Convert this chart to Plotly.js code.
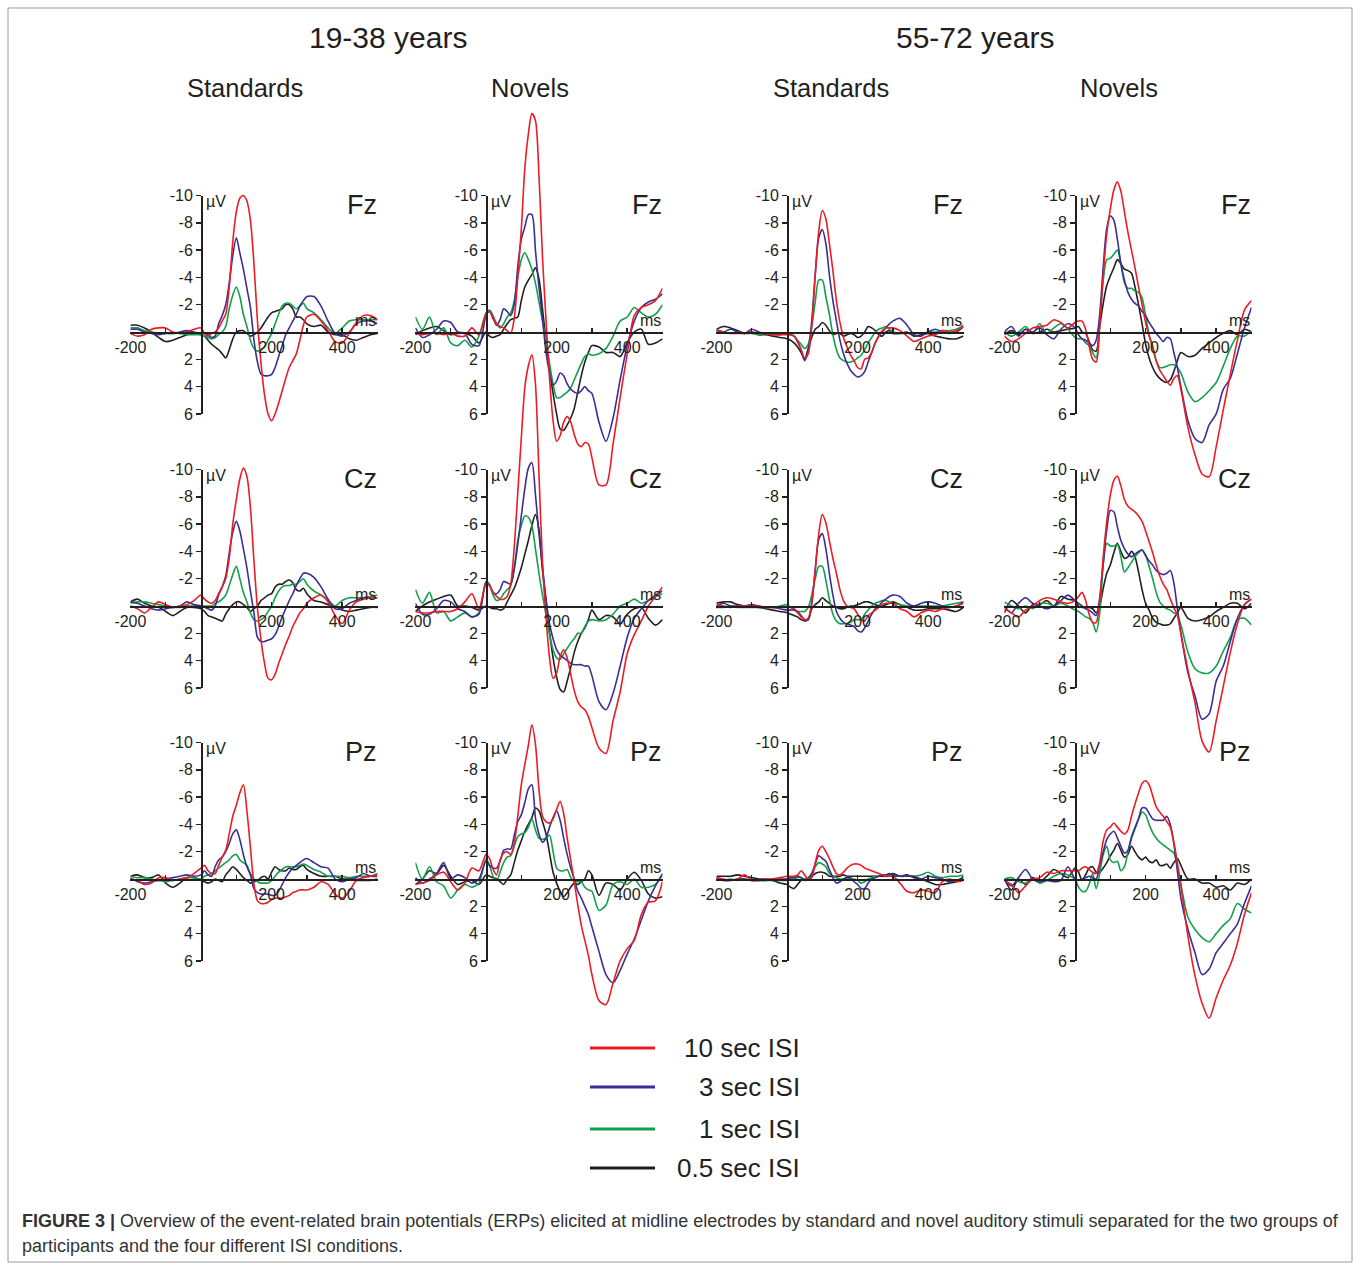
<!DOCTYPE html>
<html><head><meta charset="utf-8">
<script src="https://cdn.plot.ly/plotly-3.0.1.min.js"></script>
<style>html,body{margin:0;padding:0;background:#fff}#chart{width:1360px;height:1263px}</style>
</head><body><div id="chart"></div>
<script>
// ---------- shared categories / labels ----------
const timeMs = [-200,-180,-160,-140,-120,-100,-80,-60,-40,-20,0,
  10,20,30,40,50,60,70,80,90,100,110,120,130,140,150,160,170,180,190,200,
  210,220,230,240,250,260,270,280,290,300,
  320,340,360,380,400,420,440,460,480,500];
const isiLabels = ['10 sec ISI','3 sec ISI','1 sec ISI','0.5 sec ISI'];
const isiColors = ['#ed1c24','#3a2e96','#12a04a','#231f20'];
const groupTitles = ['19-38 years','55-72 years'];
const stimTitles = ['Standards','Novels','Standards','Novels'];
const electrodes = ['Fz','Cz','Pz'];
const xTickVals = [-200,-100,100,200,300,400];
const xTickText = ['-200','','','200','','400'];
const yTickVals = [-10,-8,-6,-4,-2,2,4,6];
const yTickText = ['-10','-8','-6','-4','-2','2','4','6'];
const captionLines = [
  '<b>FIGURE 3 |</b> Overview of the event-related brain potentials (ERPs) elicited at midline electrodes by standard and novel auditory stimuli separated for the two groups of',
  'participants and the four different ISI conditions.'
];

// ---------- Young (19-38), Standards ----------
const YS_Fz_10 = [0.1,0.3,0.2,-0.2,-0.3,-0.3,0,0.1,0,-0.2,-0.3,
  0.1,0.3,0.1,0,-0.3,-0.8,-1.3,-3.3,-6.6,-8.8,-9.8,-10.0,-9.6,-8.2,-5.0,-0.8,2.3,4.6,6.0,6.5,
  6.0,5.2,4.3,3.4,2.6,2.1,1.6,0.6,-0.5,-1.1,
  -1.3,-0.8,-0.1,0.7,0.8,0.1,-0.7,-1.2,-1.2,-0.9];
const YS_Fz_3 = [-0.2,-0.2,0,0.1,0.2,0.1,0.1,0,-0.1,0,0.1,
  0.1,0.2,0.4,0.3,-0.6,-1.2,-2.0,-3.6,-5.6,-6.9,-5.8,-4.6,-3.2,-1.8,0.6,2.2,3.1,3.2,3.2,3.1,
  2.6,1.8,1.0,0.2,-0.3,-0.8,-1.3,-1.9,-2.3,-2.6,
  -2.6,-1.9,-0.8,0.1,0.3,0,-0.6,-0.8,-0.8,-0.6];
const YS_Fz_1 = [-0.3,-0.3,-0.1,0,0.1,0.1,0.1,0.1,0.2,0.2,0.2,
  0.3,0.4,0.5,0.4,0.2,0,-0.4,-1.7,-2.7,-3.3,-2.6,-1.3,-0.4,0.6,1.2,1.4,1.3,1.1,0.6,0.1,
  -0.6,-1.3,-1.9,-2.1,-2.1,-1.9,-1.7,-1.9,-2.1,-1.7,
  -1.4,-0.9,-0.3,0.1,-0.3,-0.8,-0.9,-0.9,-0.9,-0.9];
const YS_Fz_05 = [-0.5,-0.5,-0.3,0,0.4,0.7,0.6,0.4,0.2,0.1,0.2,
  0.3,0.6,0.9,1.1,1.3,1.6,1.9,1.3,0.5,0,-0.1,-0.1,0.1,0.3,0.2,0,-0.3,-0.7,-1.1,-1.4,
  -1.5,-1.6,-1.7,-2.0,-2.0,-1.7,-1.1,-1.1,-0.9,-0.6,
  -0.4,-0.5,0,0.2,0.2,0.5,0.6,0.4,0.2,0.1];

const YS_Cz_10 = [0,0.2,0.5,0.1,-0.3,-0.1,0.1,0,-0.1,-0.4,-0.8,
  -0.5,-0.3,-0.2,-0.4,-0.9,-1.4,-2.0,-3.5,-6.0,-7.8,-9.3,-10.1,-9.5,-7.2,-3.3,0.2,2.5,4.2,5.3,5.4,
  5.0,4.2,3.5,2.8,2.2,1.5,1.0,0.5,0.2,-0.2,
  -0.6,-0.8,-0.3,0.7,1.3,0.3,-0.3,-0.5,-0.6,-0.6];
const YS_Cz_3 = [-0.3,-0.2,0,0.2,0.3,0.2,0.1,0,-0.3,-0.1,0,
  0.1,0.2,0.3,0,-0.8,-1.4,-2.2,-3.9,-5.4,-6.2,-5.5,-4.2,-2.8,-1.1,0.5,2.3,2.6,2.6,2.5,2.4,
  2.1,1.5,0.8,0.2,-0.4,-0.9,-1.5,-2.0,-2.4,-2.4,
  -2.1,-1.4,-0.5,0.2,0.2,-0.2,-0.4,-0.6,-0.6,-0.6];
const YS_Cz_1 = [-0.2,-0.3,-0.3,-0.2,-0.1,0,0.1,0.1,0,0,0,
  0,0,0,-0.2,-0.3,-0.5,-0.8,-1.5,-2.3,-2.9,-2.0,-1.0,-0.3,0.5,1.0,1.1,1.0,0.8,0.4,0,
  -0.6,-1.1,-1.4,-1.5,-1.5,-1.6,-1.6,-1.8,-2.0,-1.6,
  -1.1,-0.8,-0.4,0,-0.4,-0.6,-0.6,-0.6,-0.7,-0.8];
const YS_Cz_05 = [-0.3,-0.5,-0.2,0,0.1,0.4,0.7,0.4,0.1,0.1,0.2,
  0.4,0.7,0.8,0.9,1.0,1.1,0.6,0.2,-0.1,-0.3,-0.3,-0.1,0.1,0.4,0.2,0,-0.4,-0.6,-0.8,-0.9,
  -1.4,-1.6,-1.6,-1.8,-1.9,-1.7,-1.2,-1.1,-1.3,-0.9,
  -0.4,-0.3,-0.1,0,0.3,0.4,0.3,0.2,0.1,0.1];

const YS_Pz_10 = [0,0.1,0.4,0.3,-0.1,-0.1,0.1,0,-0.1,-0.4,-0.8,
  -1.0,-0.6,-0.4,-0.4,-1.0,-1.6,-2.1,-3.3,-4.6,-5.4,-6.3,-6.9,-5.0,-2.3,0.4,1.6,1.8,1.8,1.7,1.5,
  1.4,1.4,1.4,1.3,1.2,1.0,0.9,0.8,0.8,0.8,
  0.6,0.2,0.4,1.1,1.4,0.9,0.1,-0.1,-0.2,-0.3];
const YS_Pz_3 = [-0.1,0.2,0.3,0.2,0.1,0,-0.1,-0.2,-0.3,-0.2,-0.3,
  -0.6,-0.3,-0.2,-0.9,-1.4,-1.6,-2.0,-2.6,-3.3,-3.6,-2.9,-1.8,-0.9,-0.3,0.7,1.0,1.1,1.1,1.1,1.2,
  1.2,0.9,0.4,-0.1,-0.5,-0.8,-1.0,-1.2,-1.4,-1.5,
  -1.2,-0.9,-0.8,0,0.2,0,-0.1,-0.4,-0.2,-0.2];
const YS_Pz_1 = [-0.2,-0.1,-0.1,0,0.1,0.2,0.1,0,-0.1,-0.1,0,
  -0.2,-0.3,-0.4,-0.6,-0.8,-1.0,-1.2,-1.4,-1.7,-1.8,-1.4,-1.2,-1.0,-0.4,0,0.2,0.3,0.3,0.3,0.1,
  -0.2,-0.5,-0.7,-0.9,-0.9,-0.9,-0.9,-1.0,-1.1,-1.0,
  -0.7,-0.5,-0.2,-0.2,-0.2,-0.1,-0.2,-0.2,-0.2,-0.4];
const YS_Pz_05 = [-0.2,-0.3,-0.1,-0.1,-0.3,0.3,0.6,0.3,-0.1,-0.1,0.1,
  0.2,0.3,0.2,0,0.1,0.2,-0.3,-0.6,-0.9,-0.7,-0.4,-0.1,0.1,0.3,0.2,0.1,-0.1,-0.2,0,-0.5,
  -0.9,-0.7,-0.6,-0.6,-0.8,-0.7,-0.7,-0.9,-1.0,-0.7,
  -0.4,-0.2,-0.2,-0.2,0,0,0.1,0.1,0.1,0];

// ---------- Young (19-38), Novels ----------
const YN_Fz_10 = [0.1,0.2,0.1,0.1,0.2,0.1,0.3,0.3,-0.3,0.2,-1.3,
  -1.5,-1.0,-0.6,-0.4,-0.3,-0.1,0.1,-1.0,-4.0,-7.5,-12.0,-14.5,-16.0,-15.5,-11.5,-5.5,-0.9,3.4,6.5,8.0,
  7.6,6.6,6.2,6.6,7.5,8.2,8.4,8.1,8.2,9.2,
  11.2,11.2,8.2,4.8,1.6,-1.2,-1.8,-2.0,-2.3,-3.2];
const YN_Fz_3 = [-0.3,0.4,0.2,-0.2,-0.8,-0.7,0,0.1,0.9,1.0,-1.2,
  -1.5,-1.0,-0.5,-0.9,-1.7,-1.5,-1.2,-2.0,-4.8,-6.8,-7.7,-8.6,-8.6,-6.0,-3.3,-1.0,1.5,3.0,3.9,3.6,
  3.0,3.2,3.8,4.2,4.4,4.5,4.3,4.0,4.3,4.5,
  6.6,8.0,6.3,3.5,1.0,-0.8,-1.8,-2.2,-2.4,-2.8];
const YN_Fz_1 = [-1.1,-0.2,-1.1,0.2,-0.3,0.8,1.0,0.6,1.1,0.3,-1.4,
  -1.6,-1.2,-0.6,-0.3,-0.6,-1.1,-1.4,-2.3,-4.0,-5.3,-5.8,-5.3,-4.6,-3.6,-2.2,-0.8,0.6,2.3,3.8,4.8,
  4.8,4.6,4.4,4.1,3.5,2.9,2.3,1.8,1.6,1.7,
  1.6,1.2,0.3,-0.8,-1.1,-1.8,-1.4,-1.1,-1.3,-2.0];
const YN_Fz_05 = [0.2,-0.1,-0.3,-0.4,-0.1,0.2,0.1,0.1,0.3,0.8,0,
  0.3,0.4,0.3,0.2,-0.2,-0.6,-0.9,-1.0,-1.1,-2.3,-3.3,-3.8,-4.2,-4.7,-3.9,-1.7,0.6,2.8,4.5,6.0,
  7.1,7.2,6.8,6.3,5.6,4.4,3.2,2.2,1.5,1.0,
  1.1,1.5,1.5,1.8,0.8,0,-0.2,0.9,0.8,0.5];

const YN_Cz_10 = [0.4,0.5,0.5,0.4,0.4,0.4,0.2,-0.3,-0.9,0.2,-1.6,
  -1.5,-1.0,-0.7,-0.5,-0.5,-0.7,-1.6,-4.3,-8.3,-12.3,-16.0,-17.6,-18.4,-16.3,-9.7,-3.2,0.8,3.8,5.3,4.9,
  3.7,3.2,3.8,5.0,6.2,7.0,7.4,7.6,8.1,8.9,
  10.4,10.8,8.4,6.3,3.5,2.1,1.1,0,-0.7,-1.4];
const YN_Cz_3 = [-0.2,0.6,0.6,0.2,-0.4,-0.3,0.2,0.4,0.8,0.6,-1.7,
  -1.5,-1.0,-0.9,-1.2,-1.8,-1.7,-1.6,-2.7,-4.5,-6.6,-8.6,-10.1,-10.5,-8.2,-5.3,-2.9,-0.5,1.3,2.4,3.2,
  3.6,3.8,4.0,4.2,4.3,4.3,4.3,4.4,4.4,5.1,
  7.0,7.6,6.4,4.4,2.3,0.9,0.2,-0.4,-0.8,-1.1];
const YN_Cz_1 = [-1.2,-0.2,-1.0,0.5,0.4,1.1,0.8,0.5,0.8,0.5,-1.8,
  -1.6,-0.8,-0.4,-0.5,-0.9,-1.2,-1.5,-2.8,-4.8,-5.9,-6.6,-6.5,-5.9,-4.2,-2.4,-0.8,0.6,2.1,3.2,3.8,
  3.9,3.5,3.1,2.7,2.4,2.0,2.0,1.5,1.1,1.0,
  1.1,1.0,0.6,0,-0.2,-0.5,-0.2,-0.4,-0.7,-0.9];
const YN_Cz_05 = [0.4,0,-0.3,-0.5,-0.7,-0.8,0,0,0.1,0.3,0,
  0.1,0.2,0.2,0.3,0.2,-0.3,-0.8,-1.3,-2.0,-2.8,-3.8,-4.8,-5.9,-6.7,-5.6,-2.6,-0.4,1.9,3.8,5.2,
  6.1,6.3,5.5,4.5,3.4,2.6,2.0,1.6,1.0,0.3,
  1.0,0.7,0.8,1.3,0.6,0.2,0.1,0.9,1.4,1.0];

const YN_Pz_10 = [0.4,0.3,0.1,-0.3,-0.5,0.2,0.8,0.3,-0.8,-0.6,-1.8,
  -1.5,-0.7,-0.3,-1.4,-1.9,-2.0,-1.8,-2.6,-4.6,-6.9,-8.4,-9.8,-11.3,-9.9,-6.6,-4.6,-4.2,-4.1,-4.4,-5.1,
  -5.7,-4.8,-3.0,-1.4,0.2,1.9,3.4,4.5,5.6,7.0,
  8.9,9.2,7.6,6.0,5.1,4.5,2.6,1.7,1.6,0.2];
const YN_Pz_3 = [-0.1,0.3,0,-0.4,-1.2,0,-0.3,-0.1,0.3,0,-1.3,
  -1.0,-0.8,-0.8,-1.3,-2.1,-2.2,-2.2,-3.2,-4.2,-4.7,-5.6,-6.6,-6.9,-4.5,-3.3,-2.7,-3.0,-3.8,-4.5,-5.0,
  -4.3,-3.0,-1.8,-0.8,0,0.9,1.4,2.0,2.6,3.5,
  5.3,7.0,7.6,6.7,5.5,4.4,3.0,1.6,0.5,-0.4];
const YN_Pz_1 = [-1.2,0,-0.9,0.2,0.5,1.4,0.8,0.4,0.6,0.3,-1.5,
  -1.0,-0.2,0.1,-0.5,-1.2,-1.6,-1.7,-2.4,-3.1,-3.3,-3.4,-3.8,-4.4,-3.6,-3.0,-2.9,-3.0,-3.2,-2.0,-0.8,
  -0.6,-0.6,-0.7,-0.1,0.2,0.2,0.2,0.6,0.8,0.9,
  2.3,1.9,0.4,0.2,0.4,0,0.6,0.6,0.4,-0.3];
const YN_Pz_05 = [0.4,0,-0.6,-0.4,-1.0,-0.2,0.4,0.2,0.1,0.4,-0.3,
  -0.2,-0.1,0,0.2,0.4,0,-0.3,-1.2,-2.1,-2.8,-3.5,-4.0,-4.5,-5.2,-5.0,-4.2,-3.3,-1.9,-0.5,0.3,
  0.9,1.3,1.0,0.6,0.3,0.4,0.2,0,-0.6,-0.3,
  1.2,0.3,0.4,0.8,0,-0.5,0.1,1.1,1.4,1.3];

// ---------- Old (55-72), Standards ----------
const OS_Fz_10 = [-0.1,0,0.1,0.1,0.1,0,0.1,0.1,0.2,0.2,0.2,
  0.2,0.3,0.7,1.3,1.9,1.6,-0.4,-4.2,-7.4,-8.9,-8.3,-6.5,-4.5,-2.3,-0.7,0.4,1.1,1.7,2.1,2.6,
  2.7,2.0,1.9,1.5,0.8,0.3,-0.1,-0.3,-0.3,-0.3,
  -0.1,0.3,0.7,0.5,0.3,0.2,-0.1,0,-0.1,-0.4];
const OS_Fz_3 = [-0.1,0,-0.2,0,0.1,-0.2,0,0.1,0.1,0.2,0.1,
  0.2,0.3,0.7,1.3,2.1,1.4,-0.8,-4.2,-6.9,-7.5,-6.5,-4.2,-2.3,-0.8,0.6,1.6,2.3,2.8,3.1,3.3,
  3.2,2.9,2.2,1.5,0.8,0.3,0,-0.3,-0.6,-0.8,
  -1.0,-0.5,0.2,0.3,0,-0.2,0,0.1,0,-0.4];
const OS_Fz_1 = [-0.2,0,0.1,0,0.1,0.1,0.2,0.1,0.2,0.2,0.1,
  0.2,0.3,0.6,0.9,1.2,0.9,-0.4,-2.2,-3.8,-3.8,-2.6,-1.3,0.2,1.3,1.9,2.1,2.2,2.2,2.1,1.9,
  1.7,1.3,0.8,0.4,0,-0.2,-0.3,-0.4,-0.2,0,
  0.1,0.1,0.1,0.1,0,0,-0.1,-0.1,-0.2,-0.5];
const OS_Fz_05 = [-0.2,-0.4,-0.3,-0.1,0.1,0,0.2,0.2,0.3,0.4,0.5,
  0.6,0.8,1.1,1.5,2.0,1.2,0.4,-0.2,-0.4,-0.7,-0.5,-0.1,0.2,0.1,0.1,0.3,0.2,0.1,0.2,0.4,
  0.3,0,-0.4,-0.3,-0.1,0.2,0.3,0,-0.1,0.1,
  0.1,0,0.3,0.2,0.1,0.3,0.4,0.5,0.5,0.3];

const OS_Cz_10 = [-0.1,0,0.1,0,0,0,0,0.1,0.1,0.1,0.1,
  0.1,0.2,0.5,0.8,1.0,0.9,-0.3,-2.6,-5.3,-6.7,-6.1,-4.8,-3.5,-2.4,-1.2,-0.4,0,0.1,0.2,0.6,
  1.0,1.1,0.7,0.5,0.3,0.1,-0.1,-0.2,-0.2,-0.2,
  0.2,0.4,0.8,0.5,0.3,0.4,0.2,0.1,0,-0.2];
const OS_Cz_3 = [0,-0.2,0,0,0,-0.1,0,0.1,0.1,0.2,0.3,
  0.3,0.3,0.4,0.7,1.0,1.0,-0.1,-2.7,-4.9,-5.3,-4.2,-2.4,-0.8,0.4,0.9,1.2,1.3,1.4,1.5,1.8,
  1.9,1.6,1.1,0.6,0.2,0,-0.3,-0.5,-0.7,-0.8,
  -0.7,-0.2,0,-0.2,-0.3,-0.2,0,0.1,0,-0.3];
const OS_Cz_1 = [0.1,0.1,0,0.1,0.1,0.1,0.1,0.1,0.1,0,-0.1,
  0.1,0.3,0.4,0.4,0.4,0.1,-0.8,-2.0,-2.9,-2.9,-1.9,-0.5,0.6,1.1,1.3,1.3,1.3,1.2,1.0,1.0,
  1.0,0.6,0.3,0,-0.2,-0.3,-0.4,-0.4,-0.3,-0.2,
  -0.1,0,0,0,0,0,0,-0.1,-0.2,-0.3];
const OS_Cz_05 = [-0.2,-0.3,-0.3,-0.1,0,0,0.1,0.2,0.3,0.4,0.5,
  0.6,0.7,0.8,1.0,1.1,1.0,0.2,-0.1,-0.3,-0.6,-0.4,-0.2,0,0.1,0.2,0.2,0.1,0,0,-0.1,
  -0.2,-0.3,-0.3,-0.2,-0.1,0,0,-0.1,-0.2,-0.3,
  -0.1,0.1,0.3,0.3,0.2,0.2,0.2,0.3,0.4,0.1];

const OS_Pz_10 = [-0.1,0,0.1,0,-0.3,0.1,0.1,0,0,-0.1,-0.2,
  -0.2,-0.2,-0.3,-0.6,-0.3,0,-0.1,-1.2,-2.1,-2.4,-2.0,-1.5,-0.9,-0.4,-0.3,-0.5,-0.8,-1.0,-1.1,-1.1,
  -1.0,-0.8,-0.7,-0.6,-0.5,-0.4,-0.3,-0.2,-0.2,-0.2,
  0.3,0.9,1.0,0.8,0.9,1.0,0.2,0,0.2,0.1];
const OS_Pz_3 = [-0.1,0.1,0.1,0,0,0.1,0.1,0.1,0,0,0,
  -0.1,-0.1,-0.2,-0.1,0.1,0,-0.4,-1.1,-1.7,-1.5,-1.3,-0.7,-0.1,0.3,0.2,0,-0.1,-0.1,0.2,0.4,
  0.7,0.7,0.3,0,-0.1,-0.2,-0.3,-0.3,-0.4,-0.3,
  -0.2,-0.2,-0.2,0,-0.2,-0.1,0,0.2,0.1,-0.1];
const OS_Pz_1 = [0,0.1,0,0.1,0,0.1,0.1,0.1,0.1,0.1,0.1,
  0,0,-0.1,-0.1,0,-0.1,-0.4,-0.9,-1.2,-1.1,-0.9,-0.4,-0.2,-0.1,0,0,-0.1,0,0,0.1,
  0.3,0.2,0,-0.1,-0.2,-0.2,-0.3,-0.2,-0.2,-0.2,
  -0.2,-0.2,-0.2,-0.3,-0.5,-0.2,-0.1,-0.2,-0.2,-0.3];
const OS_Pz_05 = [-0.2,-0.2,-0.2,-0.3,-0.2,-0.1,0,0,0.1,0.3,0.4,
  0.6,0.7,0.4,0.1,0,-0.1,-0.2,-0.4,-0.5,-0.5,-0.4,-0.2,-0.2,-0.2,-0.2,-0.3,-0.2,-0.2,-0.2,-0.2,
  -0.2,-0.2,-0.2,-0.2,-0.2,-0.2,-0.2,-0.2,-0.3,-0.4,
  -0.2,-0.3,-0.1,0,0.2,0.4,0.4,0.3,0.2,-0.2];

// ---------- Old (55-72), Novels ----------
const ON_Fz_10 = [0.3,0.7,0.5,0.1,-0.3,-0.4,-0.5,-0.9,-0.7,-0.3,-0.7,
  -0.8,-0.8,-0.2,1.0,2.0,2.2,-0.4,-4.2,-7.2,-9.0,-10.4,-11.0,-10.3,-8.8,-7.3,-6.0,-4.7,-3.3,-2.0,-0.7,
  0.3,1.0,2.1,2.8,3.2,3.6,3.9,3.4,3.2,4.2,
  7.0,9.0,10.4,10.6,8.4,5.7,3.1,0.6,-1.6,-2.3];
const ON_Fz_3 = [0,-0.4,0.3,-0.2,0,-0.3,0.2,0.5,-0.2,-0.6,-0.3,
  0.2,0.5,0.6,0.8,1.0,0.6,-1.3,-4.8,-7.6,-8.5,-8.2,-6.8,-5.0,-3.8,-2.9,-2.4,-2.1,-1.9,-1.5,-1.2,
  -0.7,-0.3,0.1,0.4,0.7,0.4,0.5,1.5,2.6,4.0,
  6.5,7.8,8.1,6.8,6.0,4.2,3.4,1.6,-0.3,-1.8];
const ON_Fz_1 = [0,0.3,0,-0.4,0.1,-0.6,0.1,-0.3,-0.6,-0.2,0.4,
  0.5,0.5,0.8,1.0,1.5,1.9,-0.8,-3.8,-5.3,-5.4,-5.7,-6.0,-5.0,-3.6,-3.2,-3.2,-3.0,-2.9,-2.5,-1.2,
  0.2,1.2,2.1,2.6,2.6,2.5,2.4,2.4,2.6,3.0,
  4.4,5.1,4.8,4.3,3.7,2.5,1.2,0.3,0.3,-0.1];
const ON_Fz_05 = [0.2,-0.1,0.2,-0.2,0.1,0,-0.2,0,-0.1,-0.2,-0.3,
  -0.4,0,0.1,0.7,1.3,1.4,-0.4,-2.1,-3.4,-4.1,-4.7,-5.3,-5.0,-4.6,-4.5,-4.3,-3.3,-2.0,-0.6,0.9,
  1.9,2.6,3.1,3.4,3.6,3.7,3.5,2.9,2.1,1.5,
  1.8,1.7,1.2,0.8,0.4,0.1,-0.1,0.2,-0.2,0];

const ON_Cz_10 = [0.2,0.5,0.8,0.3,0,-0.4,-0.6,-0.5,-0.3,-0.2,-0.4,
  -0.7,-1.0,-0.4,0.6,1.2,1.2,-0.4,-3.6,-6.2,-8.1,-9.2,-9.5,-8.8,-7.8,-7.3,-7.1,-6.9,-6.6,-6.2,-5.5,
  -4.7,-3.9,-3.0,-2.2,-1.6,-1.2,-0.5,0.1,0.7,2.0,
  4.7,7.1,9.9,10.7,8.4,5.9,3.4,1.3,-0.1,-0.5];
const ON_Cz_3 = [0,0.5,-0.2,-0.6,-0.2,0,0.2,0,-0.4,-0.8,-0.4,
  -0.2,0,0.2,0.3,0.5,0.7,-0.6,-3.2,-5.6,-7.0,-6.9,-5.8,-4.8,-4.2,-3.8,-3.6,-3.8,-4.0,-4.1,-3.7,
  -3.3,-3.0,-2.6,-2.4,-2.3,-2.4,-2.6,-1.7,0.2,2.0,
  4.9,6.6,8.3,7.9,5.5,4.4,2.6,0.9,-0.1,-0.5];
const ON_Cz_1 = [-0.3,0,0.2,0,0.2,-0.2,-0.2,0,-0.2,0,0.3,
  0.4,0.6,0.8,0.9,1.2,1.9,0.5,-3.0,-4.6,-4.4,-4.4,-4.5,-3.6,-2.5,-2.8,-3.2,-3.6,-3.9,-4.1,-3.7,
  -2.9,-2.0,-1.0,-0.3,0,0.2,0.3,0.5,0.7,1.4,
  3.4,4.6,4.9,4.9,4.4,3.3,2.3,1.0,0.9,1.4];
const ON_Cz_05 = [0.5,-0.4,0,0.5,-0.1,-0.1,-0.4,0,-0.7,-0.5,-0.4,
  0,0.1,0.1,0.1,0.2,0.5,0,-1.3,-2.4,-3.0,-3.9,-4.6,-4.0,-3.5,-3.6,-4.0,-3.6,-2.5,-1.2,-0.2,
  0.3,0.9,1.2,1.3,1.4,1.4,1.3,0.9,0.5,0.1,
  0.9,1.1,1.0,0.8,0.4,0.1,-0.2,-0.2,0.2,-0.2];

const ON_Pz_10 = [0.1,0.4,1.0,0.5,0,-0.1,-0.5,-0.4,-0.6,-0.6,-0.6,
  -0.6,-0.8,-0.9,-0.7,-0.5,-0.4,-1.2,-2.8,-3.6,-3.8,-4.1,-3.8,-3.5,-3.3,-3.6,-4.6,-5.5,-6.3,-7.0,-7.2,
  -6.9,-6.1,-5.3,-4.9,-4.6,-4.2,-3.8,-2.7,-1.2,0.5,
  4.2,7.1,9.1,10.2,8.7,7.4,6.3,4.7,2.6,1.0];
const ON_Pz_3 = [0.1,0.5,-0.1,-0.7,0,0.2,0.1,0.2,0.1,-0.9,0,
  0.1,0,-0.1,-0.2,-0.1,0,-1.0,-2.0,-2.9,-3.3,-3.5,-3.0,-2.4,-1.9,-2.1,-3.0,-3.7,-4.4,-5.2,-5.2,
  -4.8,-4.4,-4.3,-4.3,-4.3,-4.6,-4.0,-2.6,-0.6,1.4,
  3.7,5.4,7.0,6.6,5.4,4.7,4.0,3.3,1.8,0.5];
const ON_Pz_1 = [0,-0.1,0.2,0.3,0,0.3,0.1,-0.2,-0.4,-0.3,0,
  0.6,0.9,0.9,0.4,-0.4,0.7,-0.4,-1.8,-2.4,-1.4,-1.2,-1.3,-0.6,-0.9,-2.0,-3.1,-3.8,-4.4,-4.9,-4.7,
  -4.0,-3.4,-3.0,-2.7,-2.5,-2.3,-2.1,-1.9,-0.9,0.4,
  2.8,3.7,4.3,4.6,4.0,3.4,2.9,1.8,2.2,2.5];
const ON_Pz_05 = [0,0.8,0,0.4,-0.1,0.2,-0.2,-0.7,-0.4,-0.1,-0.8,
  -0.5,0.1,-0.3,-0.8,-0.9,-0.5,-0.5,-0.8,-1.2,-1.7,-2.1,-2.6,-2.1,-1.6,-1.8,-2.4,-2.0,-1.6,-1.4,-1.6,
  -1.3,-1.2,-1.4,-1.0,-1.0,-1.1,-0.8,-1.2,-1.5,-1.0,
  0,0,0.3,0.3,0.6,0.5,0.8,0.3,0.4,0];

// panel grid: rows = electrodes, columns = young std, young novel, old std, old novel
// each cell lists series in ISI order [10, 3, 1, 0.5]
const panelSeries = [
  [[YS_Fz_10,YS_Fz_3,YS_Fz_1,YS_Fz_05],[YN_Fz_10,YN_Fz_3,YN_Fz_1,YN_Fz_05],
   [OS_Fz_10,OS_Fz_3,OS_Fz_1,OS_Fz_05],[ON_Fz_10,ON_Fz_3,ON_Fz_1,ON_Fz_05]],
  [[YS_Cz_10,YS_Cz_3,YS_Cz_1,YS_Cz_05],[YN_Cz_10,YN_Cz_3,YN_Cz_1,YN_Cz_05],
   [OS_Cz_10,OS_Cz_3,OS_Cz_1,OS_Cz_05],[ON_Cz_10,ON_Cz_3,ON_Cz_1,ON_Cz_05]],
  [[YS_Pz_10,YS_Pz_3,YS_Pz_1,YS_Pz_05],[YN_Pz_10,YN_Pz_3,YN_Pz_1,YN_Pz_05],
   [OS_Pz_10,OS_Pz_3,OS_Pz_1,OS_Pz_05],[ON_Pz_10,ON_Pz_3,ON_Pz_1,ON_Pz_05]]
];

// ---------- geometry / style ----------
const W = 1360, H = 1263;
const FONT = 'Liberation Sans, Arial, Helvetica, sans-serif';
const INK = '#231f20';
const colZeroPx = [201, 486, 787, 1075];   // pixel x of 0 ms in each column
const rowZeroPx = [332, 606, 879];         // pixel y of 0 µV in each row
const pxPerMs = 0.353, pxPerUV = 13.65;
const tMin = -200, tMax = 500, vTop = -10, vBottom = 6;
const drawOrder = [3, 2, 1, 0];            // black, green, blue, red on top
const tickFontSize = 16;

const traces = [];
const layout = {
  width: W, height: H,
  margin: {l: 0, r: 0, t: 0, b: 0, pad: 0},
  paper_bgcolor: '#ffffff', plot_bgcolor: 'rgba(0,0,0,0)',
  showlegend: false,
  font: {family: FONT, color: INK},
  annotations: [], shapes: []
};
const px2x = p => p / W;
const px2y = p => 1 - p / H;

for (let r = 0; r < 3; r++) {
  for (let c = 0; c < 4; c++) {
    const k = r * 4 + c, n = k + 1, m = k + 13;
    const x0 = colZeroPx[c], y0 = rowZeroPx[r];
    layout['xaxis' + n] = {
      domain: [px2x(x0 + tMin * pxPerMs), px2x(x0 + tMax * pxPerMs)],
      range: [tMin, tMax], anchor: 'free', position: px2y(y0),
      showline: true, linecolor: INK, linewidth: 1.7,
      ticks: 'inside', ticklen: 4, tickwidth: 1.5, tickcolor: INK,
      tickmode: 'array', tickvals: xTickVals, ticktext: xTickText,
      tickfont: {size: tickFontSize, color: INK, family: FONT},
      showgrid: false, zeroline: false, fixedrange: true
    };
    layout['yaxis' + n] = {
      domain: [0, 1],
      range: [(H - y0) / pxPerUV, -y0 / pxPerUV],
      anchor: 'x' + n, visible: false, fixedrange: true
    };
    layout['yaxis' + m] = {
      domain: [px2y(y0 + vBottom * pxPerUV), px2y(y0 + vTop * pxPerUV)],
      range: [vBottom, vTop], anchor: 'free', position: px2x(x0),
      showline: true, linecolor: INK, linewidth: 1.7,
      ticks: 'outside', ticklen: 5, tickwidth: 1.5, tickcolor: INK,
      tickmode: 'array', tickvals: yTickVals, ticktext: yTickText,
      tickfont: {size: tickFontSize, color: INK, family: FONT},
      showgrid: false, zeroline: false, fixedrange: true
    };
    // empty trace to bind the voltage tick axis to this panel
    traces.push({type: 'scatter', mode: 'lines', x: [null], y: [null],
      xaxis: 'x' + n, yaxis: 'y' + m, showlegend: false, hoverinfo: 'skip'});
    drawOrder.forEach(i => {
      traces.push({
        type: 'scatter', mode: 'lines', name: isiLabels[i],
        x: timeMs, y: panelSeries[r][c][i],
        xaxis: 'x' + n, yaxis: 'y' + n,
        line: {color: isiColors[i], width: 1.6, shape: 'spline', smoothing: 0.8},
        showlegend: false, hoverinfo: 'skip'
      });
    });
    // electrode label
    layout.annotations.push({text: electrodes[r], xref: 'x' + n, yref: 'y' + m,
      x: tMax, y: -9.3, xanchor: 'right', yanchor: 'middle', xshift: 1, showarrow: false,
      font: {size: 27, color: INK, family: FONT}});
    // unit labels
    layout.annotations.push({text: 'µV', xref: 'x' + n, yref: 'y' + m,
      x: 0, y: vTop, xanchor: 'left', yanchor: 'middle', xshift: 3, yshift: -6,
      showarrow: false, font: {size: 16, color: INK, family: FONT}});
    layout.annotations.push({text: 'ms', xref: 'x' + n, yref: 'y' + n,
      x: tMax, y: 0, xanchor: 'right', yanchor: 'bottom', yshift: 1,
      showarrow: false, font: {size: 16, color: INK, family: FONT}});
  }
}

// column and group titles
for (let c = 0; c < 4; c++) {
  layout.annotations.push({text: stimTitles[c], xref: 'paper', yref: 'paper',
    x: px2x(colZeroPx[c] + 44), y: px2y(88), xanchor: 'center', yanchor: 'middle',
    showarrow: false, font: {size: 25.5, color: INK, family: FONT}});
}
for (let g = 0; g < 2; g++) {
  const cx = (colZeroPx[2 * g] + colZeroPx[2 * g + 1]) / 2 + 44;
  layout.annotations.push({text: groupTitles[g], xref: 'paper', yref: 'paper',
    x: px2x(cx), y: px2y(37), xanchor: 'center', yanchor: 'middle',
    showarrow: false, font: {size: 30, color: INK, family: FONT}});
}

// legend (keys + labels)
const legendRowPx = [1048, 1087, 1129, 1168];
isiLabels.forEach((lab, i) => {
  layout.shapes.push({type: 'line', xref: 'paper', yref: 'paper',
    x0: px2x(590), x1: px2x(655), y0: px2y(legendRowPx[i]), y1: px2y(legendRowPx[i]),
    line: {color: isiColors[i], width: 3}});
  layout.annotations.push({text: lab, xref: 'paper', yref: 'paper',
    x: px2x(802), y: px2y(legendRowPx[i]), xanchor: 'right', yanchor: 'middle',
    showarrow: false, font: {size: 26, color: INK, family: FONT}});
});

// frame and caption
layout.shapes.push({type: 'rect', xref: 'paper', yref: 'paper',
  x0: px2x(8), x1: px2x(1352), y0: px2y(1262), y1: px2y(8),
  line: {color: '#9a9a9a', width: 1}, fillcolor: 'rgba(0,0,0,0)'});
const captionRowPx = [1221, 1246];
captionLines.forEach((txt, i) => {
  layout.annotations.push({
    text: txt, xref: 'paper', yref: 'paper', x: px2x(20), y: px2y(captionRowPx[i]),
    xanchor: 'left', yanchor: 'middle', align: 'left', showarrow: false,
    font: {size: 18, color: '#333333', family: FONT}});
});

Plotly.newPlot('chart', traces, layout, {staticPlot: true, displayModeBar: false});
</script>
</body></html>
